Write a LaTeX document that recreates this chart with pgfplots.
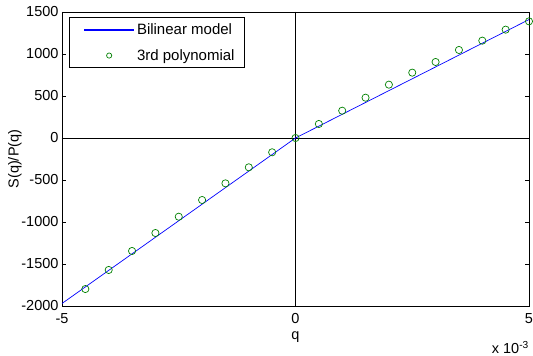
\documentclass[border=0pt]{standalone}
\usepackage{fontspec}
\setmainfont{Liberation Sans}
\usepackage{pgfplots}
\pgfplotsset{compat=1.18}
\definecolor{mblue}{RGB}{0,0,255}
\definecolor{mgreen}{RGB}{0,128,0}
\newcommand{\mfont}{\fontsize{14.5}{17}\selectfont}
\newcommand{\lfont}{\fontsize{15}{17}\selectfont}
\begin{document}
\begin{tikzpicture}
\begin{axis}[
  width=467pt, height=294pt, scale only axis,
  xmin=-5, xmax=5, ymin=-2000, ymax=1500,
  xtick={-5,0,5}, ytick={-2000,-1500,...,1500},
  scaled ticks=false,
  tick align=inside, tick pos=both, major tick length=4pt,
  axis line style={line width=0.9pt},
  tick style={black, line width=0.6pt},
  font=\mfont,
  /pgf/number format/assume math mode=true,
  /pgf/number format/1000 sep={},
  xticklabel style={yshift=-4pt},
  xlabel={q}, ylabel={S(q)/P(q)},
  xlabel style={at={(axis description cs:0.5,0)}, anchor=center, yshift=-31pt},
  ylabel style={at={([xshift=-47pt]axis description cs:0,0.5)}, anchor=center},
  extra x ticks={0}, extra y ticks={0},
  extra x tick labels={}, extra y tick labels={},
  extra tick style={grid=major, major grid style={black, line width=0.6pt}},
  legend cell align=left,
  legend style={at={(axis description cs:0,1)}, anchor=north west, xshift=7pt, yshift=-5pt,
    line width=0.6pt, inner xsep=7pt, inner ysep=3pt, row sep=7.5pt, column sep=0pt,
    nodes={inner xsep=3pt, inner ysep=3pt, text height=11.5pt, text depth=1pt, font=\lfont},
    font=\lfont},
]
\addplot[color=mblue, line width=0.7pt,
  legend image code/.code={\fill[mblue] (0pt,-0.5pt) rectangle (49pt,0.5pt); \path (-8pt,0pt);}]
  coordinates {(-5,-1970) (0,0) (5,1410)};
\addlegendentry{Bilinear model}
\addplot[only marks, mark=o, mark size=3.6pt, color=mgreen, mark options={line width=0.7pt},
  legend image code/.code={\draw[draw=mgreen, line width=0.7pt] (24.5pt,0pt) circle (2.6pt); \path (-8pt,0pt) (49pt,0pt);}]
  coordinates {
(-4.5,-1798) (-4,-1571) (-3.5,-1345) (-3,-1131) (-2.5,-937) (-2,-738) (-1.5,-540) (-1,-349) (-0.5,-170)
(0,0) (0.5,167) (1,325) (1.5,480) (2,635) (2.5,778) (3,905) (3.5,1048) (4,1159) (4.5,1290) (5,1389)};
\addlegendentry{3rd polynomial}
\end{axis}
\node[anchor=base east, inner sep=0pt, font=\mfont] at (467pt,-48pt) {x 10\textsuperscript{-3}};
\pgfresetboundingbox
\path[use as bounding box] (-62pt,-50pt) rectangle (471pt,306pt);
\end{tikzpicture}
\end{document}
